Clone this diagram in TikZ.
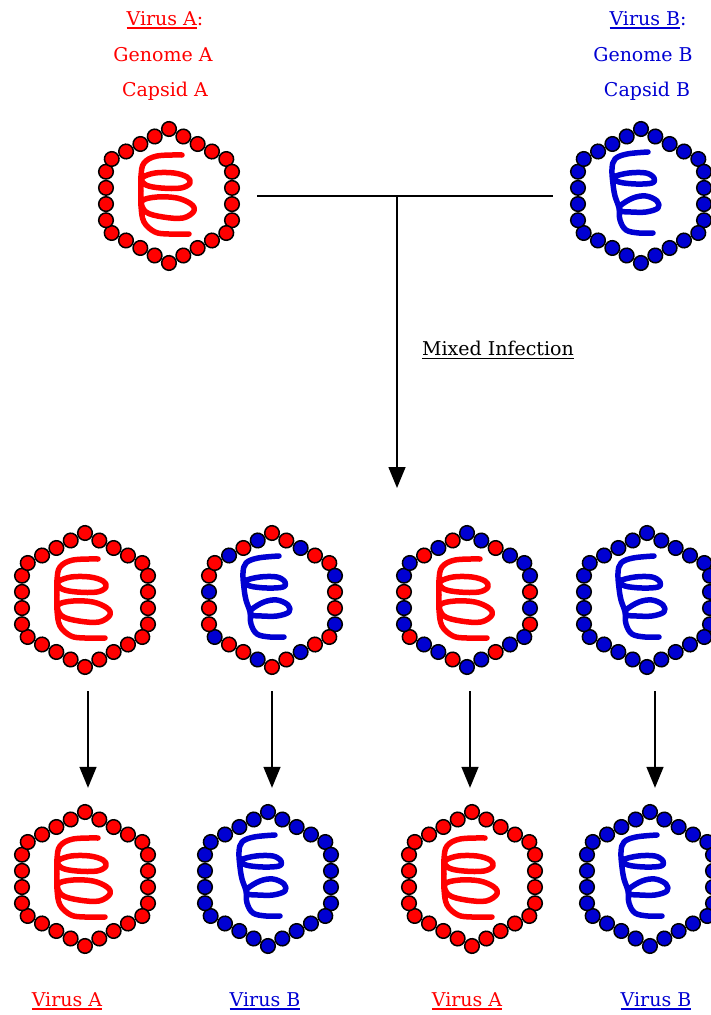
\documentclass[tikz,border=0pt]{standalone}
\usepackage{fontspec}
\setmainfont{DejaVu Serif}
\usetikzlibrary{decorations.markings,arrows.meta}

\definecolor{vred}{RGB}{255,0,0}
\definecolor{vblue}{RGB}{0,0,210}

% underlined text with a thicker rule than \underline gives
\newsavebox\ulinebox
\newcommand\ulinetext[1]{%
  \sbox\ulinebox{#1}%
  \leavevmode\rlap{\rule[-3.5pt]{\wd\ulinebox}{1.4pt}}\usebox\ulinebox}

\tikzset{
  lbl/.style={inner sep=0pt, font=\fontsize{19}{23}\selectfont},
  virusframe/.style={rectangle, minimum width=176pt, minimum height=182pt, inner sep=0pt},
  genome/.style={line width=5.5pt, line cap=round, line join=round},
  conn/.style={line width=1.5pt, draw=black},
  arr/.style={conn, -{Triangle[width=17pt,length=21pt]}},
}

% coiled genome, two hand-drawn variants: a curved spine with two loops
\newcommand\genomeA[1]{%
  \draw[genome,#1]
    plot[smooth,tension=0.6] coordinates {
      (13,-41) (-12,-40) (-25,-33) (-28,-20) (-28,-5) (-28,10) (-25,26) (-14,36) (0,38) (20,38)}
    plot[smooth cycle,tension=0.6] coordinates {
      (-27,-18) (-14,-23) (5,-23) (18,-19) (21,-13) (12,-8) (-8,-8) (-23,-11)}
    plot[smooth cycle,tension=0.6] coordinates {
      (-27,5) (-12,1) (8,2) (22,8) (25,15) (14,22) (-6,21) (-23,16)};}
\newcommand\genomeB[1]{%
  \draw[genome,#1]
    plot[smooth,tension=0.6] coordinates {
      (7,-44) (-14,-42) (-26,-37) (-29,-27) (-28,-12) (-26,0) (-22,12) (-21,24) (-15,34) (-2,37) (12,37)}
    plot[smooth cycle,tension=0.6] coordinates {
      (-27,-19) (-12,-23) (5,-23) (13,-18) (11,-13) (-5,-12) (-22,-14)}
    plot[smooth cycle,tension=0.6] coordinates {
      (-21,10) (-8,2) (5,0) (16,5) (17,12) (5,16) (-10,16) (-20,15)};}

% #1 node name, #2 centre, #3 genome colour, #4 genome variant (A/B),
% #5 bead kinds clockwise from the top (0 = red, 1 = blue)
\newcommand\virusat[5]{%
  \node[virusframe] (#1) at (#2) {};
  \begin{scope}[shift={(#2)}]
    \csname genome#4\endcsname{#3}
    \path[decorate, decoration={markings,
      mark=between positions 0 and 0.98 step 0.0384615 with {%
        \pgfmathtruncatemacro\beadidx{\pgfkeysvalueof{/pgf/decoration/mark info/sequence number}-1}%
        \pgfmathtruncatemacro\beadkind{{#5}[\beadidx]}%
        \ifnum\beadkind=1
          \filldraw[fill=vblue, draw=black, line width=1.5pt] (0,0) circle (7.3pt);
        \else
          \filldraw[fill=vred, draw=black, line width=1.5pt] (0,0) circle (7.3pt);
        \fi}}]
      (0,-67) -- (63,-34) -- (63,34) -- (0,67) -- (-63,34) -- (-63,-34) -- cycle;
  \end{scope}}

\begin{document}
\begin{tikzpicture}[x=1pt,y=-1pt]
  \useasboundingbox (0,0) rectangle (711,1015);

  % parent viruses and their captions
  \node[lbl,vred]  (capA1) at (165,20) {\ulinetext{Virus A}:};
  \node[lbl,vred]  (capA2) at (163,55) {Genome A};
  \node[lbl,vred]  (capA3) at (165,91) {Capsid A};
  \node[lbl,vblue] (capB1) at (648,20) {\ulinetext{Virus B}:};
  \node[lbl,vblue] (capB2) at (643,55) {Genome B};
  \node[lbl,vblue] (capB3) at (647,91) {Capsid B};

  \virusat{vA}{169,196}{vred}{A}{0,0,0,0,0,0,0,0,0,0,0,0,0,0,0,0,0,0,0,0,0,0,0,0,0,0}
  \virusat{vB}{641,196}{vblue}{B}{1,1,1,1,1,1,1,1,1,1,1,1,1,1,1,1,1,1,1,1,1,1,1,1,1,1}

  % co-infection
  \draw[conn] (vA.east) -- (vB.west);
  \coordinate (split) at (397,196);
  \coordinate (mixtip) at (397,488);
  \draw[arr] (split) -- (mixtip);
  \node[lbl,black] (mixlbl) at (498,350) {\ulinetext{Mixed Infection}};

  % progeny of the mixed infection
  \virusat{p1}{85,600}{vred}{A}{0,0,0,0,0,0,0,0,0,0,0,0,0,0,0,0,0,0,0,0,0,0,0,0,0,0}
  \virusat{p2}{272,600}{vblue}{B}{0,0,1,0,0,1,0,0,1,0,0,1,0,0,1,0,0,1,0,0,1,0,0,1,0,1}
  \virusat{p3}{467,600}{vred}{A}{1,1,0,1,1,1,0,1,0,1,1,0,1,1,0,1,1,0,1,1,0,1,1,0,1,0}
  \virusat{p4}{647,600}{vblue}{B}{1,1,1,1,1,1,1,1,1,1,1,1,1,1,1,1,1,1,1,1,1,1,1,1,1,1}

  % next generation: the genome decides the capsid
  \virusat{q1}{85,879}{vred}{A}{0,0,0,0,0,0,0,0,0,0,0,0,0,0,0,0,0,0,0,0,0,0,0,0,0,0}
  \virusat{q2}{268,879}{vblue}{B}{1,1,1,1,1,1,1,1,1,1,1,1,1,1,1,1,1,1,1,1,1,1,1,1,1,1}
  \virusat{q3}{472,879}{vred}{A}{0,0,0,0,0,0,0,0,0,0,0,0,0,0,0,0,0,0,0,0,0,0,0,0,0,0}
  \virusat{q4}{650,879}{vblue}{B}{1,1,1,1,1,1,1,1,1,1,1,1,1,1,1,1,1,1,1,1,1,1,1,1,1,1}

  \draw[arr] ([xshift=3pt]p1.south) -- ([xshift=3pt]p1.south |- q1.north);
  \draw[arr] (p2.south) -- (p2.south |- q2.north);
  \draw[arr] ([xshift=3pt]p3.south) -- ([xshift=3pt]p3.south |- q3.north);
  \draw[arr] ([xshift=8pt]p4.south) -- ([xshift=8pt]p4.south |- q4.north);

  \node[lbl,vred]  (out1) at (67,1001)  {\ulinetext{Virus A}};
  \node[lbl,vblue] (out2) at (265,1001) {\ulinetext{Virus B}};
  \node[lbl,vred]  (out3) at (467,1001) {\ulinetext{Virus A}};
  \node[lbl,vblue] (out4) at (656,1001) {\ulinetext{Virus B}};
\end{tikzpicture}
\end{document}
